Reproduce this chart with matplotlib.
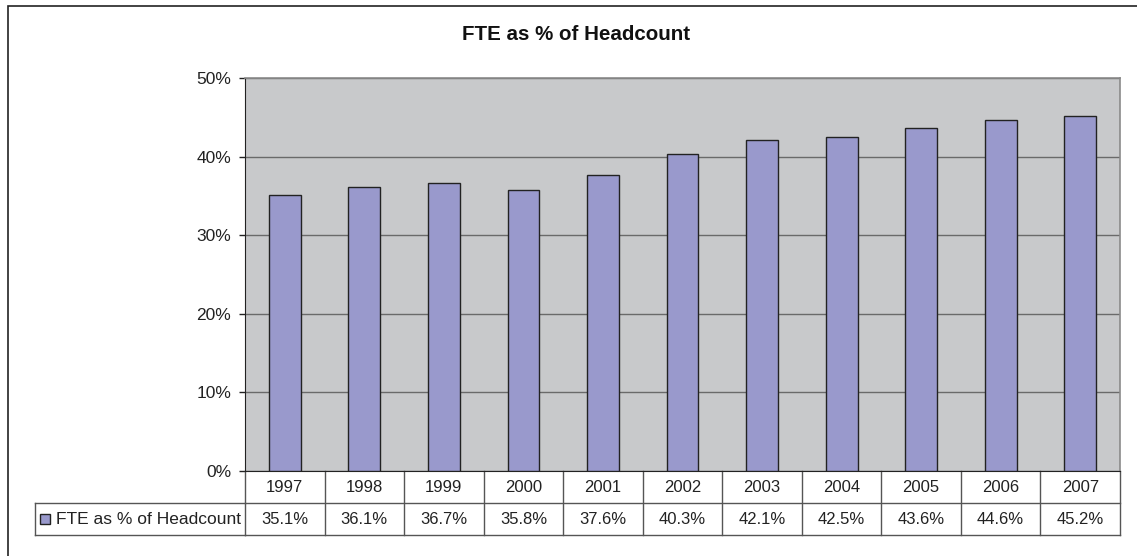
import matplotlib
matplotlib.use('Agg')
import matplotlib.pyplot as plt
from matplotlib.patches import Rectangle

plt.rcParams['font.family'] = ['Liberation Sans', 'DejaVu Sans']

# datos
years = ['1997', '1998', '1999', '2000', '2001', '2002', '2003', '2004', '2005', '2006', '2007']
fte_pct = [35.1, 36.1, 36.7, 35.8, 37.6, 40.3, 42.1, 42.5, 43.6, 44.6, 45.2]
series_name = 'FTE as % of Headcount'
y_ticks = [0, 10, 20, 30, 40, 50]

W, H = 1137, 556
fig = plt.figure(figsize=(W / 100, H / 100), dpi=100)
fig.patch.set_facecolor('white')

# marco exterior (se corta por la derecha y por abajo)
fig.patches.append(Rectangle((8 / W, -0.1), 1.2, (H - 6) / H + 0.1,
                             transform=fig.transFigure, fill=False,
                             edgecolor='#222222', linewidth=1.2))

left, right, top, bottom = 245, 1120, 78, 471
ax = fig.add_axes([left / W, 1 - bottom / H, (right - left) / W, (bottom - top) / H])
ax.set_facecolor('#C8C9CB')

x = list(range(len(years)))
ax.bar(x, fte_pct, width=0.4, color='#9999CC', edgecolor='#222222', linewidth=1.0, zorder=3)

ax.set_xlim(-0.5, len(years) - 0.5)
ax.set_ylim(0, 50)
ax.set_yticks(y_ticks)
ax.set_yticklabels([f'{t}%' for t in y_ticks], fontsize=12.5, color='#222222')
ax.yaxis.grid(True, color='#6a6a6a', linewidth=1.0, zorder=1)
ax.tick_params(axis='y', length=4, width=1, color='#222222', pad=6)
ax.set_xticks([])

for s in ['top', 'right']:
    ax.spines[s].set_color('#8a8a8a')
    ax.spines[s].set_linewidth(1.2)
ax.spines['left'].set_color('#222222')
ax.spines['bottom'].set_color('#222222')

fig.text(576 / W, 1 - 35 / H, 'FTE as % of Headcount', ha='center', va='center',
         fontsize=14.8, fontweight='bold', color='#111111')

# tabla de datos debajo del grafico
rh = 32 / (bottom - top)
xt = ax.get_xaxis_transform()
lc = '#555555'
n = len(years)
for i in range(n + 1):
    ax.plot([i - 0.5, i - 0.5], [0, -2 * rh], transform=xt, color=lc, lw=1, clip_on=False)
ax.plot([-0.5, n - 0.5], [-rh, -rh], transform=xt, color=lc, lw=1, clip_on=False)
ax.plot([-0.5, n - 0.5], [-2 * rh, -2 * rh], transform=xt, color=lc, lw=1, clip_on=False)

for i, (yr, v) in enumerate(zip(years, fte_pct)):
    ax.text(i, -rh / 2, yr, transform=xt, ha='center', va='center', fontsize=12, color='#222222')
    ax.text(i, -1.5 * rh, f'{v:.1f}%', transform=xt, ha='center', va='center', fontsize=12, color='#222222')

# celda de leyenda
lx = (35 - left) / (right - left)
ax.plot([lx, 0], [-rh, -rh], transform=ax.transAxes, color=lc, lw=1, clip_on=False)
ax.plot([lx, 0], [-2 * rh, -2 * rh], transform=ax.transAxes, color=lc, lw=1, clip_on=False)
ax.plot([lx, lx], [-rh, -2 * rh], transform=ax.transAxes, color=lc, lw=1, clip_on=False)
sq = 10 / (right - left)
sqh = 10 / (bottom - top)
ax.add_patch(Rectangle((lx + 5 / (right - left), -1.5 * rh - sqh / 2), sq, sqh,
                       transform=ax.transAxes, facecolor='#9999CC', edgecolor='#222222',
                       lw=1, clip_on=False))
ax.text(lx + 21 / (right - left), -1.5 * rh, series_name, transform=ax.transAxes,
        ha='left', va='center', fontsize=12.5, color='#222222')

fig.savefig('out.png', dpi=100)
